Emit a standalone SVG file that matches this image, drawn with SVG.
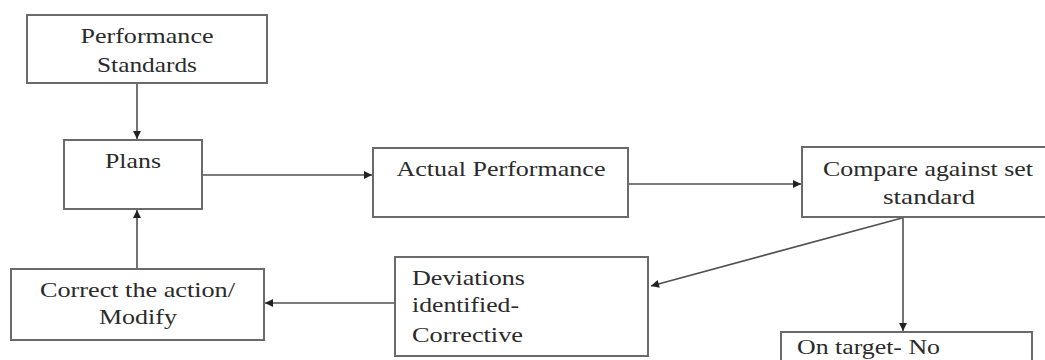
<svg xmlns="http://www.w3.org/2000/svg" width="1045" height="360" viewBox="0 0 1045 360">
<style>
.box{fill:#fff;stroke:#6a6a6a;stroke-width:2}
.t{font-size:21px;fill:#2a2a2a}
.c{text-anchor:middle}
.ln{stroke:#505050;stroke-width:1.6;fill:none;marker-end:url(#ah)}
</style>
<defs>
<marker id="ah" viewBox="0 0 10 10" refX="10" refY="5" markerWidth="9" markerHeight="8" markerUnits="userSpaceOnUse" orient="auto">
<path d="M0,0 L10,5 L0,10 z" fill="#222"/>
</marker>
</defs>
<rect width="1045" height="360" fill="#fff"/>
<g id="connectors">
<line class="ln" x1="137" y1="84" x2="137" y2="139"/>
<line class="ln" x1="137" y1="269" x2="137" y2="210"/>
<line class="ln" x1="203" y1="175" x2="372" y2="175"/>
<line class="ln" x1="629" y1="184" x2="801" y2="184"/>
<line class="ln" x1="902" y1="218" x2="651" y2="286"/>
<line class="ln" x1="903" y1="217" x2="903" y2="331"/>
<line class="ln" x1="394" y1="303" x2="265" y2="303"/>
</g>
<g font-family="Liberation Serif, Times New Roman, serif">
<g id="performance-standards">
<rect class="box" x="27" y="15" width="240" height="68"/>
<text class="t c" x="147" y="43" textLength="133" lengthAdjust="spacingAndGlyphs">Performance</text>
<text class="t c" x="147" y="72" textLength="100" lengthAdjust="spacingAndGlyphs">Standards</text>
</g>
<g id="plans">
<rect class="box" x="64" y="140" width="138" height="69"/>
<text class="t c" x="133" y="168" textLength="56" lengthAdjust="spacingAndGlyphs">Plans</text>
</g>
<g id="actual-performance">
<rect class="box" x="373" y="148" width="255" height="69"/>
<text class="t c" x="501" y="176" textLength="209" lengthAdjust="spacingAndGlyphs">Actual Performance</text>
</g>
<g id="compare">
<rect class="box" x="802" y="147" width="260" height="70"/>
<text class="t c" x="928" y="176" textLength="210" lengthAdjust="spacingAndGlyphs">Compare against set</text>
<text class="t c" x="929" y="204" textLength="92" lengthAdjust="spacingAndGlyphs">standard</text>
</g>
<g id="deviations">
<rect class="box" x="395" y="257" width="253" height="99"/>
<text class="t" x="412" y="285" textLength="113" lengthAdjust="spacingAndGlyphs">Deviations</text>
<text class="t" x="412" y="312" textLength="107" lengthAdjust="spacingAndGlyphs">identified-</text>
<text class="t" x="412" y="342" textLength="111" lengthAdjust="spacingAndGlyphs">Corrective</text>
</g>
<g id="correct">
<rect class="box" x="11" y="269" width="253" height="71"/>
<text class="t c" x="137.5" y="297" textLength="195" lengthAdjust="spacingAndGlyphs">Correct the action/</text>
<text class="t c" x="138" y="324" textLength="78" lengthAdjust="spacingAndGlyphs">Modify</text>
</g>
<g id="on-target">
<rect class="box" x="781" y="332" width="251" height="60"/>
<text class="t" x="797" y="354" font-size="19" textLength="143" lengthAdjust="spacingAndGlyphs">On target- No</text>
</g>
</g>
</svg>
